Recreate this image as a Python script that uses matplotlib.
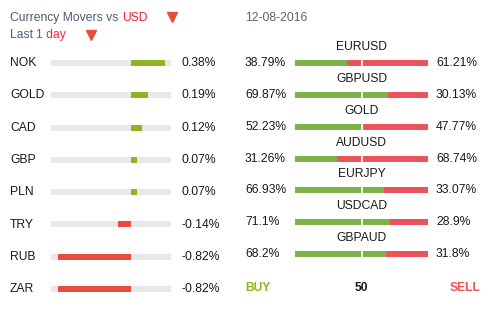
#!/usr/bin/env python3
import matplotlib
matplotlib.use("Agg")
import matplotlib.pyplot as plt
import matplotlib.transforms as mtransforms

# data
movers = ['NOK', 'GOLD', 'CAD', 'GBP', 'PLN', 'TRY', 'RUB', 'ZAR']
changes = [0.38, 0.19, 0.12, 0.07, 0.07, -0.14, -0.82, -0.82]
pairs = ['EURUSD', 'GBPUSD', 'GOLD', 'AUDUSD', 'EURJPY', 'USDCAD', 'GBPAUD']
buy_pct = [38.79, 69.87, 52.23, 31.26, 66.93, 71.1, 68.2]
sell_pct = [61.21, 30.13, 47.77, 68.74, 33.07, 28.9, 31.8]

W, H = 495, 325
GREEN_L = '#8cb520'
RED_L = '#e84c3d'
GREEN_R = '#7db346'
RED_R = '#ee5359'
GRAY = '#e8e8e8'
TXT = '#1a1a1a'
FS = 8.7

plt.rcParams['font.family'] = ['Liberation Sans', 'DejaVu Sans']
fig = plt.figure(figsize=(W / 100, H / 100), dpi=100)


def fx(px):
    return px / W


def fy(py):
    return 1 - py / H


# header, on an invisible axes covering the whole figure
hd = fig.add_axes([0, 0, 1, 1])
hd.set_xlim(0, W)
hd.set_ylim(H, 0)
hd.axis('off')
t1 = hd.text(10, 18, 'Currency Movers vs ', color='#4d5a6b', fontsize=FS, va='center')
hd.annotate('USD', xy=(1, 0), xycoords=t1, va='bottom', color='#ee2230', fontsize=FS)
t3 = hd.text(10, 35, 'Last ', color='#4d5a6b', fontsize=FS, va='center')
hd.annotate('1 day', xy=(1, 0), xycoords=t3, va='bottom', color='#f0283c', fontsize=FS)
hd.text(245, 18, '12-08-2016', color='#5a6270', fontsize=FS, va='center')
hd.plot([171.5, 91], [17, 35], marker='v', markersize=7, color='#e84c3d', linestyle='none')

# left panel: currency movers
row_l = 32.3
top_l = 63 - row_l / 2
ax = fig.add_axes([fx(51), fy(top_l + row_l * 8), fx(171) - fx(51), row_l * 8 / H])
ax.set_xlim(-0.894, 0.447)
ax.set_ylim(7.5, -0.5)
ax.axis('off')
ypos = list(range(len(movers)))
xmin, xmax = ax.get_xlim()
bh = 6 / row_l
ax.barh(ypos, [xmax - xmin] * len(ypos), left=xmin, height=bh, color=GRAY)
ax.barh(ypos, changes, height=bh, color=[GREEN_L if v >= 0 else RED_L for v in changes])
tr = mtransforms.blended_transform_factory(fig.transFigure, ax.transData)
for i, (name, v) in enumerate(zip(movers, changes)):
    ax.text(fx(10), i, name, transform=tr, fontsize=FS, color=TXT, va='center')
    ax.text(fx(182), i, f'{v:.2f}%', transform=tr, fontsize=FS, color=TXT, va='center')

# right panel: sentiment
row_r = 31.85
top_r = 63 - row_r / 2
n = len(pairs) + 1
ax2 = fig.add_axes([fx(295), fy(top_r + row_r * n), fx(428) - fx(295), row_r * n / H])
ax2.set_xlim(0, 100)
ax2.set_ylim(n - 0.5, -0.5)
ax2.axis('off')
yp = list(range(len(pairs)))
bh2 = 6 / row_r
ax2.barh(yp, buy_pct, height=bh2, color=GREEN_R)
ax2.barh(yp, sell_pct, left=buy_pct, height=bh2, color=RED_R)
for y in yp:
    ax2.plot([50, 50], [y - bh2 / 2, y + bh2 / 2], color='white', lw=1.2)
tr2 = mtransforms.blended_transform_factory(fig.transFigure, ax2.transData)
for i, (p, b, s) in enumerate(zip(pairs, buy_pct, sell_pct)):
    ax2.text(50, i - 0.5, p, fontsize=FS, color=TXT, ha='center', va='center')
    ax2.text(fx(245), i, f'{b}%', transform=tr2, fontsize=FS, color=TXT, va='center')
    ax2.text(fx(436), i, f'{s}%', transform=tr2, fontsize=FS, color=TXT, va='center')
yl = len(pairs) + 0.05
ax2.text(fx(245), yl, 'BUY', transform=tr2, fontsize=FS, color=GREEN_L, va='center', fontweight='bold')
ax2.text(50, yl, '50', fontsize=FS, color=TXT, ha='center', va='center', fontweight='bold')
ax2.text(fx(450), yl, 'SELL', transform=tr2, fontsize=FS, color=RED_R, va='center', fontweight='bold')

fig.savefig('out.png', dpi=100)
